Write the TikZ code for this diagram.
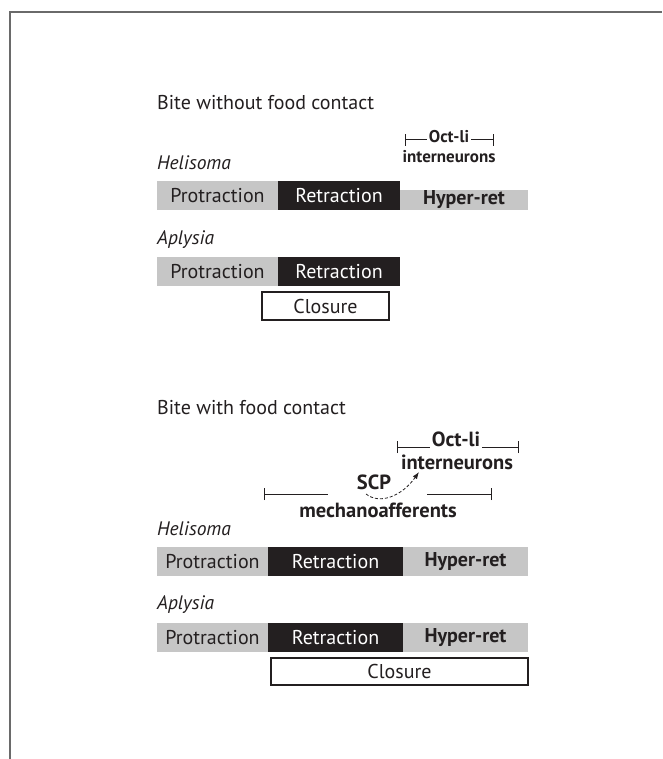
\documentclass[tikz,border=0pt]{standalone}
\usepackage{fontspec}
\setmainfont{PT Sans}
\usetikzlibrary{arrows.meta}
\definecolor{ink}{HTML}{231F20}
\definecolor{bargrey}{HTML}{C6C6C6}
\definecolor{framegrey}{HTML}{6A6A6A}
\tikzset{
  bar/.style={anchor=north west, inner sep=0pt, outer sep=0pt, font=\fontsize{20}{23}\selectfont},
  greybar/.style={bar, fill=bargrey, text=ink},
  blackbar/.style={bar, fill=ink, text=white},
  boldbar/.style={font=\fontsize{20}{23}\selectfont\bfseries},
  closebox/.style={bar, draw=ink, line width=1.3pt, fill=white, text=ink},
  titletext/.style={anchor=west, inner sep=0pt, text=ink, font=\fontsize{20}{23}\selectfont},
  species/.style={anchor=west, inner sep=0pt, text=ink, font=\fontsize{19.5}{22}\selectfont\itshape},
  smalllbl/.style={inner sep=2pt, text=ink, font=\fontsize{17}{19}\selectfont\bfseries},
  biglbl/.style={inner sep=2pt, text=ink, font=\fontsize{20.5}{23}\selectfont\bfseries},
  bracketline/.style={draw=ink, line width=1pt},
}
\begin{document}
\begin{tikzpicture}[x=1pt,y=-1pt]
\useasboundingbox (0,0) rectangle (662,759);
\fill[white] (0,0) rectangle (662,759);
% frame
\draw[framegrey, line width=1.5pt] (10,759) -- (10,12) -- (662,12);

% ---------- Bite without food contact ----------
\node[titletext] (t1) at (157,103) {Bite without food contact};

\node[smalllbl] (oct1) at (449,137) {Oct-li};
\node[smalllbl] (int1) at (449,157) {interneurons};
\coordinate (o1L) at (405,140);
\coordinate (o1R) at (493,140);
\draw[bracketline] (o1L) -- (o1L -| oct1.west);
\draw[bracketline] (o1R -| oct1.east) -- (o1R);
\draw[bracketline] ([yshift=-6pt]o1L) -- ([yshift=6pt]o1L);
\draw[bracketline] ([yshift=-6pt]o1R) -- ([yshift=6pt]o1R);

\node[species] (hel1) at (157,163) {Helisoma};
\node[greybar, minimum width=121pt, minimum height=29pt] (hp1) at (157,181) {Protraction};
\node[blackbar, minimum width=122pt, minimum height=29pt] (hr1) at (278,181) {Retraction};
\node[greybar, boldbar, minimum width=128pt, minimum height=20pt] (hh1) at (400,190) {Hyper-ret};

\node[species] (apl1) at (157,240) {Aplysia};
\node[greybar, minimum width=121pt, minimum height=29pt] (ap1) at (157,257) {Protraction};
\node[blackbar, minimum width=122pt, minimum height=29pt] (ar1) at (278,257) {Retraction};
\node[closebox, minimum width=127pt, minimum height=28pt] (ac1) at (262,292) {Closure};

% ---------- Bite with food contact ----------
\node[titletext] (t2) at (157,408) {Bite with food contact};

\node[biglbl] (oct2) at (456,439) {Oct-li};
\node[biglbl] (int2) at (457,462) {interneurons};
\coordinate (o2L) at (397,447);
\coordinate (o2R) at (518,447);
\draw[bracketline] (o2L) -- (o2L -| oct2.west);
\draw[bracketline] (o2R -| oct2.east) -- (o2R);
\draw[bracketline] ([yshift=-6pt]o2L) -- ([yshift=6pt]o2L);
\draw[bracketline] ([yshift=-6pt]o2R) -- ([yshift=6pt]o2R);

\node[biglbl, inner sep=0pt] (scp) at (374,482) {SCP};
\node[biglbl] (mech) at (378,510) {mechanoafferents};
\coordinate (sL) at (264,494);
\coordinate (sR) at (491,494);
\draw[bracketline] (sL) -- (328,494);
\draw[bracketline] (427,494) -- (sR);
\draw[bracketline] ([yshift=-6pt]sL) -- ([yshift=6pt]sL);
\draw[bracketline] ([yshift=-6pt]sR) -- ([yshift=6pt]sR);
\coordinate (arrowstart) at (366,494);
\coordinate (arrowtip) at (419,472);
\draw[ink, line width=0.8pt, dash pattern=on 3pt off 2pt, -{Latex[length=7pt,width=5pt]}]
  (arrowstart) .. controls (380,505) and (402,496) .. (arrowtip);

\node[species] (hel2) at (157,529) {Helisoma};
\node[greybar, minimum width=111pt, minimum height=29pt] (hp2) at (157,547) {Protraction};
\node[blackbar, minimum width=135pt, minimum height=29pt] (hr2) at (268,547) {Retraction};
\node[greybar, boldbar, minimum width=125pt, minimum height=29pt] (hh2) at (403,547) {Hyper-ret};

\node[species] (apl2) at (157,605) {Aplysia};
\node[greybar, minimum width=111pt, minimum height=29pt] (ap2) at (157,623) {Protraction};
\node[blackbar, minimum width=135pt, minimum height=29pt] (ar2) at (268,623) {Retraction};
\node[greybar, boldbar, minimum width=125pt, minimum height=29pt] (ah2) at (403,623) {Hyper-ret};
\node[closebox, minimum width=257pt, minimum height=27pt] (ac2) at (271,658) {Closure};
\end{tikzpicture}
\end{document}
